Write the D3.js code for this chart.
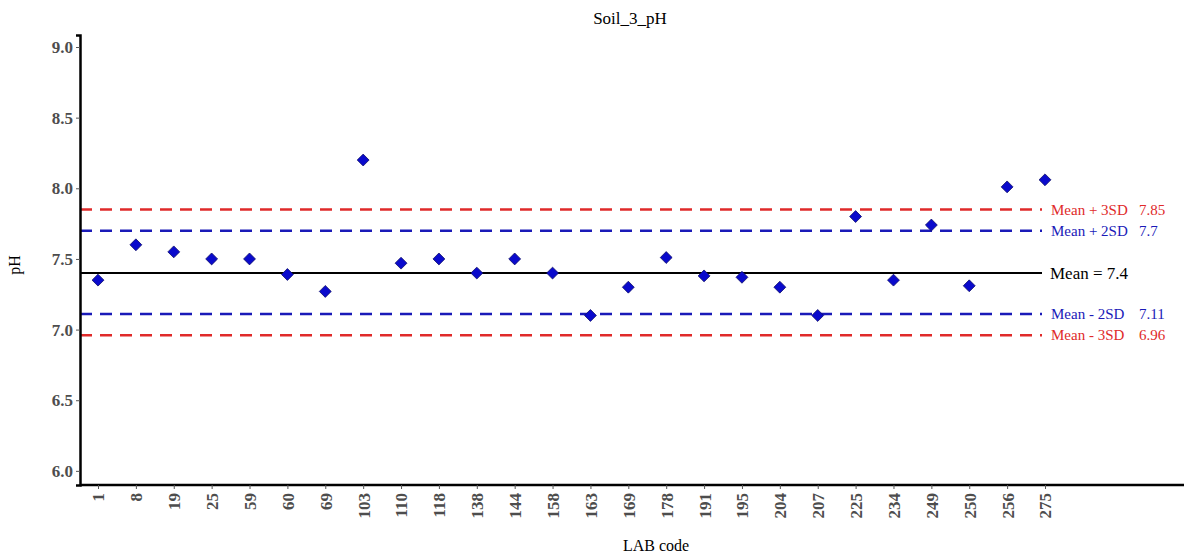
<!DOCTYPE html>
<html>
<head>
<meta charset="utf-8">
<script src="https://cdn.jsdelivr.net/npm/d3@7"></script>
<style>
  body { margin: 0; background: #fff; }
  text { font-family: "Liberation Serif", "Times New Roman", serif; }
</style>
</head>
<body>
<div id="my_dataviz"></div>
<script>
// data
var labCodes = ["1","8","19","25","59","60","69","103","110","118","138","144","158",
                "163","169","178","191","195","204","207","225","234","249","250","256","275"];
var phValues = [7.35, 7.6, 7.55, 7.5, 7.5, 7.39, 7.27, 8.2, 7.47, 7.5, 7.4, 7.5, 7.4,
                7.1, 7.3, 7.51, 7.38, 7.37, 7.3, 7.1, 7.8, 7.35, 7.74, 7.31, 8.01, 8.06];
var yTicks = [6.0, 6.5, 7.0, 7.5, 8.0, 8.5, 9.0];

// control lines
var refNames = ["Mean + 3SD", "Mean + 2SD", "Mean", "Mean - 2SD", "Mean - 3SD"];
var refValues = [7.85, 7.7, 7.4, 7.11, 6.96];
var refLabels = ["7.85", "7.7", "7.4", "7.11", "6.96"];

var margin = {top: 35, right: 0, bottom: 70, left: 80},
    width = 1184 - margin.left - margin.right,
    height = 555 - margin.top - margin.bottom;

var svg = d3.select("#my_dataviz")
  .append("svg")
    .attr("width", 1184)
    .attr("height", 555)
  .append("g")
    .attr("transform", "translate(" + margin.left + "," + margin.top + ")");

var x = d3.scalePoint()
  .domain(labCodes)
  .range([18, 965]);

var y = d3.scaleLinear()
  .domain([5.9, 9.085])
  .range([height, 0]);

// reference lines
var refColor = ["#e02a2a", "#1a1ab8", "#000", "#1a1ab8", "#e02a2a"];
var lineEnd = 962;
refValues.forEach(function(v, i) {
  svg.append("line")
    .attr("x1", 0).attr("x2", lineEnd)
    .attr("y1", y(v)).attr("y2", y(v))
    .attr("stroke", refColor[i])
    .attr("stroke-width", refNames[i] == "Mean" ? 2 : 2.5)
    .attr("stroke-dasharray", refNames[i] == "Mean" ? null : "12,8");

  if (refNames[i] == "Mean") {
    svg.append("text")
      .attr("x", lineEnd + 8).attr("y", y(v))
      .attr("dy", "0.35em")
      .style("font-size", "17px")
      .attr("fill", "#000")
      .text("Mean = " + refLabels[i]);
  } else {
    svg.append("text")
      .attr("x", lineEnd + 9).attr("y", y(v))
      .attr("dy", "0.35em")
      .style("font-size", "15px")
      .attr("fill", refColor[i])
      .text(refNames[i]);
    svg.append("text")
      .attr("x", lineEnd + 97).attr("y", y(v))
      .attr("dy", "0.35em")
      .style("font-size", "15px")
      .attr("fill", refColor[i])
      .text(refLabels[i]);
  }
});

// points
svg.selectAll(".pt")
  .data(phValues)
  .enter()
  .append("path")
    .attr("class", "pt")
    .attr("transform", function(d, i) { return "translate(" + x(labCodes[i]) + "," + y(d) + ")"; })
    .attr("d", d3.symbol().type(d3.symbolDiamond2).size(90))
    .attr("fill", "#0a0acc")
    .attr("stroke", "#10106a")
    .attr("stroke-width", 0.8);

// Y axis
var yAxis = svg.append("g")
  .call(d3.axisLeft(y).tickValues(yTicks).tickFormat(d3.format(".1f")).tickSize(4));
yAxis.select(".domain").attr("stroke", "#000").attr("stroke-width", 2.5);
yAxis.selectAll(".tick line").attr("stroke", "#555");
yAxis.selectAll(".tick text")
  .style("font-size", "17px")
  .style("font-weight", "bold")
  .attr("fill", "#4d4d4d");

// X axis
var xAxis = svg.append("g")
  .attr("transform", "translate(0," + height + ")")
  .call(d3.axisBottom(x).tickSize(4).tickSizeOuter(0));
xAxis.select(".domain").attr("stroke", "#000").attr("stroke-width", 2.5)
  .attr("d", "M0,0H" + width);
xAxis.selectAll(".tick line").attr("stroke", "#555");
xAxis.selectAll(".tick text")
  .style("font-size", "17px")
  .style("font-weight", "bold")
  .attr("fill", "#4d4d4d")
  .attr("text-anchor", "end")
  .attr("transform", "rotate(-90)")
  .attr("x", -8)
  .attr("y", 0)
  .attr("dy", "0.35em");

// titles
svg.append("text")
  .attr("x", 630 - margin.left).attr("y", 18 - margin.top)
  .attr("dy", "0.35em")
  .attr("text-anchor", "middle")
  .style("font-size", "17px")
  .text("Soil_3_pH");

svg.append("text")
  .attr("x", 656 - margin.left).attr("y", 545 - margin.top)
  .attr("dy", "0.35em")
  .attr("text-anchor", "middle")
  .style("font-size", "16px")
  .text("LAB code");

svg.append("text")
  .attr("transform", "translate(" + (14 - margin.left) + "," + (265 - margin.top) + ") rotate(-90)")
  .attr("dy", "0.35em")
  .attr("text-anchor", "middle")
  .style("font-size", "16px")
  .text("pH");
</script>
</body>
</html>
